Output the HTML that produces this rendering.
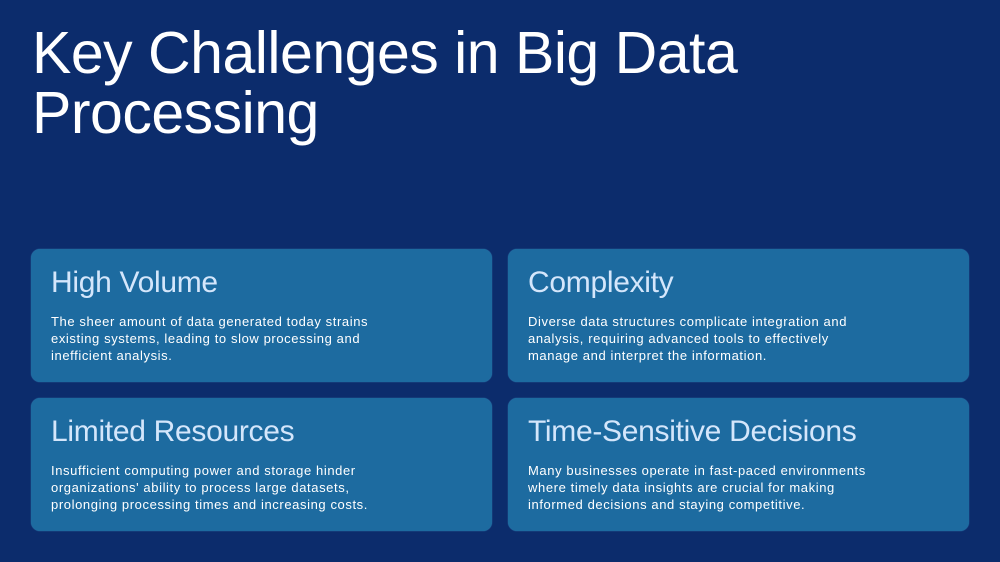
<!DOCTYPE html>
<html><head><style>
body{margin:0;width:1000px;height:562px;background:#0c2c6c;font-family:"Liberation Sans",sans-serif;overflow:hidden;position:relative}
h1{position:absolute;left:32px;top:23px;margin:0;color:#fff;font-weight:400;font-size:59px;line-height:60px;letter-spacing:-0.5px}
.c{position:absolute;width:461px;height:133px;background:#1d6ba0;border-radius:9px;box-shadow:0 0 1px #3d86bb}
.c h2{position:absolute;left:20px;top:17px;margin:0;font-weight:400;font-size:30px;color:#d4e6fb;letter-spacing:-0.3px}
.c p{position:absolute;left:20px;top:64px;margin:0;font-size:13px;line-height:17px;color:#fff;white-space:nowrap;letter-spacing:0.6px}
</style></head><body>
<h1>Key Challenges in Big Data<br>Processing</h1>
<div class="c" style="left:31px;top:249px"><h2>High Volume</h2><p>The sheer amount of data generated today strains<br>existing systems, leading to slow processing and<br>inefficient analysis.</p></div>
<div class="c" style="left:508px;top:249px"><h2>Complexity</h2><p>Diverse data structures complicate integration and<br>analysis, requiring advanced tools to effectively<br>manage and interpret the information.</p></div>
<div class="c" style="left:31px;top:398px"><h2>Limited Resources</h2><p>Insufficient computing power and storage hinder<br>organizations' ability to process large datasets,<br>prolonging processing times and increasing costs.</p></div>
<div class="c" style="left:508px;top:398px"><h2>Time-Sensitive Decisions</h2><p>Many businesses operate in fast-paced environments<br>where timely data insights are crucial for making<br>informed decisions and staying competitive.</p></div>
</body></html>
